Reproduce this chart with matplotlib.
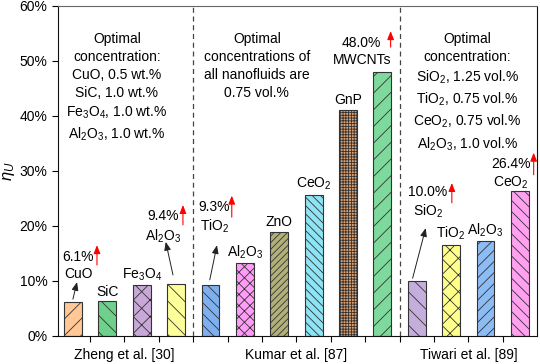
import numpy as np
import matplotlib
matplotlib.use('Agg')
import matplotlib.pyplot as plt

plt.rcParams['font.family'] = ['Liberation Sans', 'DejaVu Sans']
plt.rcParams['mathtext.fontset'] = 'custom'
plt.rcParams['mathtext.rm'] = 'Liberation Sans'
plt.rcParams['mathtext.it'] = 'Liberation Sans:italic'
plt.rcParams['font.size'] = 10
plt.rcParams['hatch.linewidth'] = 0.6

# data
names = ['CuO', 'SiC', 'Fe$_3$O$_4$', 'Al$_2$O$_3$',
         'TiO$_2$', 'Al$_2$O$_3$', 'ZnO', 'CeO$_2$', 'GnP', 'MWCNTs',
         'SiO$_2$', 'TiO$_2$', 'Al$_2$O$_3$', 'CeO$_2$']
values = [6.1, 6.3, 9.2, 9.4,
          9.3, 13.2, 18.9, 25.6, 41.1, 48.0,
          10.0, 16.5, 17.2, 26.4]
groups = ['Zheng et al. [30]', 'Kumar et al. [87]', 'Tiwari et al. [89]']
group_sizes = [4, 6, 4]
yticks = [0, 10, 20, 30, 40, 50, 60]

colors = ['#FFC896', '#6FD08C', '#C8A8D8', '#FFFF99',
          '#7EB0F0', '#FF9CF8', '#B0B07A', '#8CE4F4', '#DDA070', '#7ED99C',
          '#C4AEDC', '#FFFF8C', '#8CBCF4', '#FFA0F0']
hatches = ['//', '\\\\', 'xx', '\\\\',
           '\\\\\\', 'xxx', '/////', '\\\\\\\\', '++++++', '//',
           '\\\\', 'xx', '///', '\\\\\\']

notes = ['Optimal\nconcentration:\nCuO, 0.5 wt.%\nSiC, 1.0 wt.%\nFe$_3$O$_4$, 1.0 wt.%\nAl$_2$O$_3$, 1.0 wt.%',
         'Optimal\nconcentrations of\nall nanofluids are\n0.75 vol.%',
         'Optimal\nconcentration:\nSiO$_2$, 1.25 vol.%\nTiO$_2$, 0.75 vol.%\nCeO$_2$, 0.75 vol.%\nAl$_2$O$_3$, 1.0 vol.%']

# bars highlighted with a percentage label
highlight = {0: '6.1%', 3: '9.4%', 4: '9.3%', 9: '48.0%', 10: '10.0%', 13: '26.4%'}

fig = plt.figure(figsize=(5.4, 3.64), dpi=100)
ax = fig.add_axes([0.107, 0.077, 0.887, 0.907])

x = np.arange(len(values))
for i in range(len(values)):
    ax.bar(x[i], values[i], width=0.52, color=colors[i], hatch=hatches[i],
           edgecolor='#333333', linewidth=0.8, zorder=2)

# plain labels above bars
for i in range(len(values)):
    if i in highlight:
        continue
    ax.annotate(names[i], (x[i], values[i]), xytext=(0, 2), textcoords='offset points',
                ha='center', va='bottom')

# highlighted: text, black arrow, red arrow
hl_text = {0: (0.15, 12.8), 3: (2.62, 19.8), 4: (4.11, 21.5),
           9: (8.40, 51.7), 10: (10.33, 24.2), 13: (12.73, 29.5)}
hl_black = {0: ((0.0, 6.7), (0.12, 9.8)), 3: ((2.91, 11.1), (2.70, 17.1)),
            4: ((3.98, 10.2), (4.19, 16.5)), 10: ((9.88, 10.5), (10.26, 19.6))}
hl_red = {0: (0.70, 12.9, 16.5), 3: (3.20, 20.2, 23.8), 4: (4.62, 21.6, 25.5),
          9: (9.24, 52.5, 55.4), 10: (11.02, 24.2, 27.8), 13: (13.40, 29.3, 33.3)}

for i, pct in highlight.items():
    tx, ty = hl_text[i]
    ax.text(tx, ty, pct + '\n' + names[i], ha='center', va='center', linespacing=1.3)
    if i in hl_black:
        (x0, y0), (x1, y1) = hl_black[i]
        ax.annotate('', xy=(x1, y1), xytext=(x0, y0),
                    arrowprops=dict(arrowstyle='-|>,head_length=0.5,head_width=0.2',
                                    color='#222222', lw=0.7, shrinkA=0, shrinkB=0))
    rx, ry0, ry1 = hl_red[i]
    ax.annotate('', xy=(rx, ry1), xytext=(rx, ry0),
                arrowprops=dict(arrowstyle='-|>,head_length=0.5,head_width=0.2',
                                color='red', lw=0.8, shrinkA=0, shrinkB=0))

# notes for each group
note_x = [1.28, 5.35, 11.48]
for nx, txt in zip(note_x, notes):
    ax.text(nx, 55.2, txt, ha='center', va='top', linespacing=1.36)

# group separators
bounds = np.cumsum(group_sizes)[:-1] - 0.5
for b in bounds:
    ax.plot([b, b], [0, 60], ls=(0, (4, 3)), color='#444444', lw=0.9, zorder=1)

ax.set_xlim(-0.44, 13.49)
ax.set_ylim(0, 60)
ax.set_yticks(yticks)
ax.set_yticklabels([str(v) + '%' for v in yticks])
ax.set_ylabel(r'$\eta_U$', fontsize=12, labelpad=2)

ax.set_xticks(np.arange(0.5, 13.0, 1.0))
ax.set_xticklabels([])
ax.tick_params(axis='both', which='major', direction='out', length=4, width=0.8)

# group names under the axis
starts = np.concatenate([[0], np.cumsum(group_sizes)[:-1]])
for s, n, g in zip(starts, group_sizes, groups):
    ax.annotate(g, (s + (n - 1) / 2, 0), xycoords=('data', 'axes fraction'),
                xytext=(0, -8.5), textcoords='offset points', ha='center', va='top')

for s in ['left', 'bottom', 'right']:
    ax.spines[s].set_color('#111111')
ax.spines['top'].set_color('#666666')

plt.savefig('out.png', dpi=100)
